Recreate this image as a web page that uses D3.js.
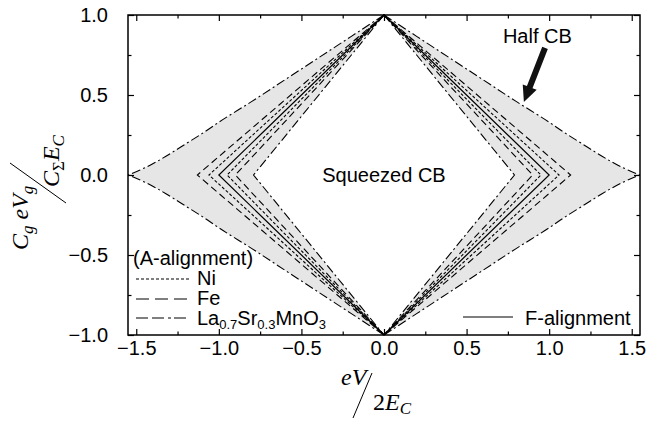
<!DOCTYPE html>
<html>
<head>
<meta charset="utf-8">
<script src="https://cdn.jsdelivr.net/npm/d3@7"></script>
<style>
  body { margin: 0; background: #fff; }
  svg { display: block; font-family: "Liberation Sans", Arial, sans-serif; }
</style>
</head>
<body>
<svg id="chart" width="649" height="422"></svg>
<script>
// Half CB (outer boundary), one quadrant: |x| vs |y|
const halfCbX = [0, 0.2, 0.4, 0.6, 0.8, 1.0, 1.1, 1.2, 1.3, 1.4, 1.48, 1.55];
const halfCbY = [1, 0.865, 0.73, 0.595, 0.46, 0.33, 0.26, 0.195, 0.13, 0.07, 0.03, 0];
// straight diamonds: |eV/2Ec| where each one hits the gate axis
const lsmoInner = 0.79;
const feVertex = [0.90, 1.13];
const niVertex = [0.95, 1.06];
const fVertex = [1.0];
// ticks
const xMajor = [-1.5, -1.0, -0.5, 0, 0.5, 1.0, 1.5];
const xMinor = [-1.25, -0.75, -0.25, 0.25, 0.75, 1.25];
const yMajor = [-1.0, -0.5, 0, 0.5, 1.0];
const yMinor = [-0.75, -0.25, 0.25, 0.75];

const dashNi = '3,2';
const dashFe = '7,4';
const dashLsmo = '9,3,2,3';

window.addEventListener('DOMContentLoaded', () => {
    const svg = d3.select('#chart');
    const left = 128, right = 640, top = 15, bottom = 335;

    const x = d3.scaleLinear().domain([-1.55, 1.55]).range([left, right]);
    const y = d3.scaleLinear().domain([-1, 1]).range([bottom, top]);

    // gray band between the innermost diamond and the half CB curve
    const halfPts = halfCbX.map((v, i) => ({ ax: v, ay: halfCbY[i] }));
    const band = d3.area()
        .curve(d3.curveMonotoneY)
        .y(d => y(d.sy * d.ay))
        .x0(d => x(d.s * lsmoInner * (1 - d.ay)))
        .x1(d => x(d.s * d.ax));

    const outerLine = d3.line()
        .curve(d3.curveMonotoneY)
        .x(d => x(d.s * d.ax))
        .y(d => y(d.sy * d.ay));

    const g = svg.append('g');
    [-1, 1].forEach(s => {
        [-1, 1].forEach(sy => {
            const pts = halfPts.map(p => ({ ...p, s, sy }));
            g.append('path')
                .attr('d', band(pts))
                .attr('fill', '#e6e6e6')
                .attr('stroke', 'none');
        });
    });

    const line = d3.line().x(d => x(d[0])).y(d => y(d[1]));

    function diamond(v, dash, width) {
        [-1, 1].forEach(s => {
            g.append('path')
                .attr('d', line([[0, 1], [s * v, 0], [0, -1]]))
                .attr('fill', 'none')
                .attr('stroke', '#000')
                .attr('stroke-width', width || 1.1)
                .attr('stroke-dasharray', dash);
        });
    }

    diamond(lsmoInner, dashLsmo);
    feVertex.forEach(v => diamond(v, dashFe));
    niVertex.forEach(v => diamond(v, dashNi));
    fVertex.forEach(v => diamond(v, null, 1.2));

    [-1, 1].forEach(s => {
        [-1, 1].forEach(sy => {
            const pts = halfPts.map(p => ({ ...p, s, sy }));
            g.append('path')
                .attr('d', outerLine(pts))
                .attr('fill', 'none')
                .attr('stroke', '#000')
                .attr('stroke-width', 1.1)
                .attr('stroke-dasharray', dashLsmo);
        });
    });

    // axes, ticks pointing inward on all four sides
    const fmt = d3.format('.1f');
    const axes = [
        { ax: d3.axisBottom(x), tr: `translate(0,${bottom})`, vals: [xMajor, xMinor], lab: true },
        { ax: d3.axisTop(x), tr: `translate(0,${top})`, vals: [xMajor, xMinor], lab: false },
        { ax: d3.axisLeft(y), tr: `translate(${left},0)`, vals: [yMajor, yMinor], lab: true },
        { ax: d3.axisRight(y), tr: `translate(${right},0)`, vals: [yMajor, yMinor], lab: false }
    ];
    axes.forEach(a => {
        const isY = a.tr.includes(`${left},`) || a.tr.includes(`${right},`);
        svg.append('g').attr('transform', a.tr)
            .call(a.ax.tickValues(a.vals[1]).tickSize(-3.5).tickFormat(''))
            .call(sel => sel.select('.domain').remove());
        const major = svg.append('g').attr('transform', a.tr)
            .call(a.ax.tickValues(a.vals[0]).tickSize(-6)
                .tickPadding(isY ? 20 : 6)
                .tickFormat(a.lab ? fmt : ''))
            .call(sel => sel.select('.domain').remove());
        major.selectAll('text')
            .attr('font-size', 20)
            .attr('font-family', '"Liberation Sans", Arial, sans-serif')
            .attr('fill', '#000');
    });
    svg.selectAll('.tick line').attr('stroke', '#000').attr('stroke-width', 1.2);

    svg.append('rect')
        .attr('x', left).attr('y', top)
        .attr('width', right - left).attr('height', bottom - top)
        .attr('fill', 'none').attr('stroke', '#000').attr('stroke-width', 1.5);

    // annotations
    svg.append('text')
        .attr('x', x(0)).attr('y', y(-0.045))
        .attr('text-anchor', 'middle').attr('font-size', 20)
        .text('Squeezed CB');

    svg.append('text')
        .attr('x', x(0.72)).attr('y', y(0.825))
        .attr('font-size', 20)
        .text('Half CB');

    // arrow pointing at the half CB curve
    const a0 = [x(0.975), y(0.794)], a1 = [x(0.847), y(0.456)];
    const ang = Math.atan2(a1[1] - a0[1], a1[0] - a0[0]);
    const headLen = 16, headW = 7.5, shaftW = 3;
    const ux = Math.cos(ang), uy = Math.sin(ang), nx = -uy, ny = ux;
    const hb = [a1[0] - ux * headLen, a1[1] - uy * headLen];
    const arrowPts = [
        [a0[0] + nx * shaftW, a0[1] + ny * shaftW],
        [hb[0] + nx * shaftW, hb[1] + ny * shaftW],
        [hb[0] + nx * headW, hb[1] + ny * headW],
        a1,
        [hb[0] - nx * headW, hb[1] - ny * headW],
        [hb[0] - nx * shaftW, hb[1] - ny * shaftW],
        [a0[0] - nx * shaftW, a0[1] - ny * shaftW]
    ];
    svg.append('path')
        .attr('d', 'M' + arrowPts.map(p => p.join(',')).join('L') + 'Z')
        .attr('fill', '#111');

    // legend
    const leg = svg.append('g').attr('font-size', 20);
    leg.append('text').attr('x', 133).attr('y', 265).text('(A-alignment)');
    const rows = [
        { dash: dashNi, yy: 279, label: 'Ni' },
        { dash: '13,6', yy: 299, label: 'Fe' },
        { dash: '12,4,12,4,3,3', yy: 318, label: null }
    ];
    rows.forEach(r => {
        leg.append('line')
            .attr('x1', 136).attr('x2', 189)
            .attr('y1', r.yy).attr('y2', r.yy)
            .attr('stroke', '#000').attr('stroke-width', 1.1)
            .attr('stroke-dasharray', r.dash);
        if (r.label) {
            leg.append('text').attr('x', 197).attr('y', r.yy + 6).text(r.label);
        }
    });
    const lsmo = leg.append('text').attr('x', 197).attr('y', 325);
    lsmo.append('tspan').text('La');
    lsmo.append('tspan').attr('font-size', 13).attr('dy', 4).text('0.7');
    lsmo.append('tspan').attr('dy', -4).text('Sr');
    lsmo.append('tspan').attr('font-size', 13).attr('dy', 4).text('0.3');
    lsmo.append('tspan').attr('dy', -4).text('MnO');
    lsmo.append('tspan').attr('font-size', 13).attr('dy', 4).text('3');

    leg.append('line')
        .attr('x1', 463).attr('x2', 513).attr('y1', 317).attr('y2', 317)
        .attr('stroke', '#000').attr('stroke-width', 1.2);
    leg.append('text').attr('x', 525).attr('y', 325).text('F-alignment');

    // axis titles
    const serif = '"Liberation Serif", "Times New Roman", serif';
    const xl = svg.append('g')
        .attr('font-family', serif).attr('font-style', 'italic').attr('font-size', 24);
    xl.append('text').attr('x', x(0) - 43).attr('y', 385).text('eV');
    xl.append('line')
        .attr('x1', x(0) - 31).attr('y1', 418).attr('x2', x(0) - 12).attr('y2', 373)
        .attr('stroke', '#000').attr('stroke-width', 1);
    const den = xl.append('text').attr('x', x(0) - 11).attr('y', 410);
    den.append('tspan').attr('font-style', 'normal').text('2');
    den.append('tspan').text('E');
    den.append('tspan').attr('font-size', 17).attr('dy', 4).text('C');

    const yl = svg.append('g')
        .attr('transform', 'translate(38,190) rotate(-90)')
        .attr('font-family', serif).attr('font-style', 'italic').attr('font-size', 24);
    const num = yl.append('text').attr('x', -60).attr('y', -10);
    num.append('tspan').text('C');
    num.append('tspan').attr('font-size', 17).attr('dy', 5).text('g');
    num.append('tspan').attr('dy', -5).text(' eV');
    num.append('tspan').attr('font-size', 17).attr('dy', 5).text('g');
    yl.append('line')
        .attr('x1', -13).attr('y1', 28).attr('x2', 27).attr('y2', -28)
        .attr('stroke', '#000').attr('stroke-width', 1);
    const yden = yl.append('text').attr('x', 3).attr('y', 21);
    yden.append('tspan').text('C');
    yden.append('tspan').attr('font-size', 17).attr('font-style', 'normal').attr('dy', 5).text('Σ');
    yden.append('tspan').attr('dy', -5).text('E');
    yden.append('tspan').attr('font-size', 17).attr('dy', 5).text('C');
});
</script>
</body>
</html>
